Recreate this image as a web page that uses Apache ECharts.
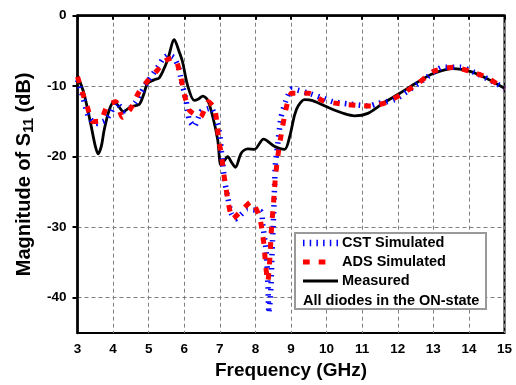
<!DOCTYPE html>
<html>
<head>
<meta charset="utf-8">
<script src="https://cdn.jsdelivr.net/npm/echarts@6/dist/echarts.min.js"></script>
<style>html,body{margin:0;padding:0;background:#fff;}#c{width:516px;height:385px;}</style>
</head>
<body>
<div id="c"></div>
<script>
var xTicks = [3,4,5,6,7,8,9,10,11,12,13,14,15];
var yTicks = [0,-10,-20,-30,-40];
var seriesNames = ['CST Simulated','ADS Simulated','Measured'];
var noteText = 'All diodes in the ON-state';

var measured = [
[3.0,-8.5],[3.18,-11],[3.37,-15.3],[3.5,-18.5],[3.58,-19.6],[3.67,-18.5],[3.75,-16.2],[3.89,-13.4],
[4.03,-12.2],[4.15,-12.8],[4.29,-13.6],[4.5,-12.9],[4.73,-12.6],[4.85,-11.3],[4.97,-9.6],[5.15,-9.1],
[5.3,-8.8],[5.53,-6.3],[5.72,-3.4],[5.85,-5.0],[5.95,-6.5],[6.09,-9.8],[6.28,-12],[6.4,-11.8],
[6.52,-11.4],[6.66,-12],[6.8,-14.3],[6.94,-17.6],[7.03,-21.2],[7.12,-20.6],[7.22,-20],[7.33,-20.8],
[7.44,-21.5],[7.6,-19.5],[7.78,-18.9],[7.97,-18.95],[8.23,-17.5],[8.53,-18.5],[8.82,-18.95],[8.96,-17.2],
[9.1,-14.1],[9.2,-12.8],[9.38,-11.9],[9.61,-12.05],[10.08,-13.1],[10.5,-13.9],[10.79,-14.2],[11.16,-13.85],
[11.59,-12.4],[12.06,-11],[12.53,-9.5],[13.0,-8.2],[13.56,-7.5],[14.03,-7.9],[14.5,-8.9],[15.0,-10.3]
];

var ads = [
[3.0,-8.65],[3.13,-10.8],[3.28,-13],[3.42,-15],[3.65,-14.9],[3.84,-12.7],[4.08,-12.2],[4.26,-14.4],
[4.48,-13.3],[4.73,-10.8],[5.01,-9.0],[5.25,-7.7],[5.44,-6.5],[5.65,-6.0],[5.79,-6.6],[5.91,-8.9],
[6.0,-11.1],[6.14,-13.4],[6.45,-14.4],[6.68,-12.2],[6.85,-13.1],[6.92,-15.3],[6.97,-17.6],[7.05,-19.9],
[7.1,-22.1],[7.17,-24.3],[7.24,-26.6],[7.36,-28.8],[7.58,-27.8],[7.88,-26.4],[8.11,-28.4],[8.19,-30.6],
[8.25,-32.9],[8.28,-35.1],[8.35,-37.7],[8.39,-35.6],[8.42,-33.2],[8.44,-31.1],[8.47,-28.9],[8.51,-26.6],
[8.54,-24.3],[8.58,-22.1],[8.63,-19.9],[8.7,-17.6],[8.86,-13.2],[9.02,-11.0],[9.5,-11],[9.9,-12.05],
[10.37,-12.5],[10.84,-12.7],[11.26,-12.8],[11.68,-12.3],[12.15,-11],[12.57,-9.6],[13.0,-7.9],[13.56,-7.3],
[14.03,-7.9],[14.45,-8.65],[15.0,-10.3]
];

var cst = [
[3.0,-9.1],[3.15,-11.5],[3.3,-14.2],[3.5,-15.3],[3.77,-14.9],[3.93,-13.8],[4.1,-12.3],[4.3,-13.5],
[4.5,-13.0],[4.64,-12.2],[4.8,-10.8],[4.97,-9.4],[5.28,-7.1],[5.39,-6.2],[5.55,-5.6],[5.72,-6.0],
[5.85,-7.5],[5.91,-9.0],[6.05,-12],[6.14,-14.8],[6.28,-15.7],[6.47,-13.6],[6.75,-13.1],[6.89,-14.6],
[6.99,-16.5],[7.03,-18.6],[7.08,-20.9],[7.13,-23.3],[7.22,-25.7],[7.32,-28.0],[7.44,-28.8],[7.78,-27.5],
[8.16,-27.8],[8.2,-29.5],[8.3,-33.2],[8.35,-38],[8.38,-42.2],[8.42,-40],[8.44,-38],[8.47,-33.2],
[8.51,-28.5],[8.54,-23.8],[8.56,-21.2],[8.62,-18.5],[8.72,-14.4],[8.86,-12],[9.03,-10.4],[9.5,-11],
[9.85,-11.6],[10.18,-12.2],[10.6,-12.5],[11.2,-12.8],[11.4,-12.5],[11.92,-11.9],[12.3,-10.6],[12.7,-9.2],
[13.27,-7.3],[13.75,-7.3],[14.26,-8.3],[14.8,-9.7],[15.0,-10.3]
];

var FONT = '"Liberation Sans", Arial, sans-serif';
var chart = echarts.init(document.getElementById('c'), null, {renderer:'canvas'});
var LX = 295, LY = 233;
chart.setOption({
  animation: false,
  backgroundColor: '#fff',
  grid: {left: 77.5, top: 15.7, width: 427, height: 317.3, show: true, borderColor: '#000', borderWidth: 2, containLabel: false},
  xAxis: {
    type: 'value', min: xTicks[0], max: xTicks[xTicks.length-1], interval: 1,
    name: 'Frequency (GHz)', nameLocation: 'middle', nameGap: 27,
    nameTextStyle: {fontFamily: FONT, fontWeight: 'bold', fontSize: 19, color: '#000'},
    axisLine: {lineStyle: {color: '#000', width: 2.5}},
    axisTick: {show: true, length: 4, lineStyle: {color: '#000', width: 2}},
    axisLabel: {fontFamily: FONT, fontWeight: 'bold', fontSize: 13.5, color: '#000', margin: 9},
    splitLine: {show: true, lineStyle: {color: '#808080', width: 1, type: [4,3]}}
  },
  yAxis: {
    type: 'value', min: -45, max: 0,
    axisTick: {show: true, length: 5, lineStyle: {color: '#000', width: 2}, customValues: yTicks},
    axisLabel: {fontFamily: FONT, fontWeight: 'bold', fontSize: 13.5, color: '#000', margin: 11, customValues: yTicks},
    name: '{a|Magnitude of S}{b|11}{a| (dB)}', nameLocation: 'middle', nameGap: 40,
    nameTextStyle: {color: '#000', rich: {
      a: {fontFamily: FONT, fontWeight: 'bold', fontSize: 20, color: '#000'},
      b: {fontFamily: FONT, fontWeight: 'bold', fontSize: 14, color: '#000', padding: [9,0,0,0]}
    }},
    axisLine: {lineStyle: {color: '#000', width: 2.5}},
    splitLine: {show: true, lineStyle: {color: '#808080', width: 1, type: [4,3]}}
  },
  series: [
    {name: seriesNames[2], type: 'line', data: measured, showSymbol: false, smooth: 0.3, z: 2,
      lineStyle: {color: '#000', width: 2.8}},
    {name: seriesNames[0], type: 'line', data: cst, showSymbol: false, smooth: 0.2, z: 3,
      lineStyle: {color: '#0000ff', width: 5.5, type: [1.5, 5.5]}},
    {name: seriesNames[1], type: 'line', data: ads, showSymbol: false, smooth: 0.2, z: 4,
      lineStyle: {color: '#ff0000', width: 5, type: [6.5, 9]}}
  ],
  graphic: [
    {type: 'rect', z: 100, shape: {x: LX, y: LY, width: 191, height: 76}, style: {fill: '#fff', stroke: '#999', lineWidth: 2}},
    {type: 'line', z: 101, shape: {x1: LX+8, y1: LY+10, x2: LX+43, y2: LY+10}, style: {stroke: '#0000ff', lineWidth: 6.5, lineDash: [1.5, 5.2]}},
    {type: 'line', z: 101, shape: {x1: LX+8, y1: LY+29, x2: LX+31, y2: LY+29}, style: {stroke: '#ff0000', lineWidth: 5, lineDash: [6.7, 9]}},
    {type: 'line', z: 101, shape: {x1: LX+8, y1: LY+48, x2: LX+43, y2: LY+48}, style: {stroke: '#000', lineWidth: 3}},
    {type: 'text', z: 101, x: LX+47, y: LY+10, style: {text: seriesNames[0], fill: '#000', font: 'bold 14.5px ' + FONT, verticalAlign: 'middle'}},
    {type: 'text', z: 101, x: LX+47, y: LY+29, style: {text: seriesNames[1], fill: '#000', font: 'bold 14.5px ' + FONT, verticalAlign: 'middle'}},
    {type: 'text', z: 101, x: LX+47, y: LY+48, style: {text: seriesNames[2], fill: '#000', font: 'bold 14.5px ' + FONT, verticalAlign: 'middle'}},
    {type: 'text', z: 101, x: LX+8, y: LY+67.5, style: {text: noteText, fill: '#000', font: 'bold 14.5px ' + FONT, verticalAlign: 'middle'}}
  ]
});
</script>
</body>
</html>
